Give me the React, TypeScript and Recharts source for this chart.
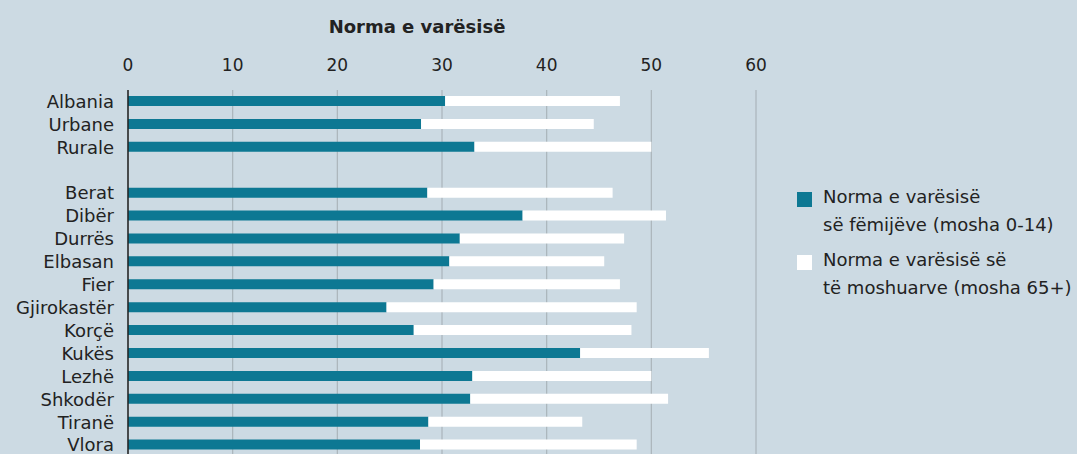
import { Bar, BarChart, CartesianGrid, Legend, XAxis, YAxis } from "recharts";

const regions = [
  "Albania", "Urbane", "Rurale", "",
  "Berat", "Dibër", "Durrës", "Elbasan", "Fier", "Gjirokastër",
  "Korçë", "Kukës", "Lezhë", "Shkodër", "Tiranë", "Vlora",
];
// dependency ratio of children (0-14)
const childRatio = [
  30.3, 28.0, 33.1, null,
  28.6, 37.7, 31.7, 30.7, 29.2, 24.7, 27.3, 43.2, 32.9, 32.7, 28.7, 27.9,
];
// dependency ratio of elderly (65+)
const elderlyRatio = [
  16.7, 16.5, 16.9, null,
  17.7, 13.7, 15.7, 14.8, 17.8, 23.9, 20.8, 12.3, 17.1, 18.9, 14.7, 20.7,
];
const xTicks = [0, 10, 20, 30, 40, 50, 60];
const legendLines = [
  ["Norma e varësisë", "së fëmijëve (mosha 0-14)"],
  ["Norma e varësisë së", "të moshuarve (mosha 65+)"],
];

const BG = "#ccdae3";
const TEAL = "#0d7893";
const FONT = "'DejaVu Sans', sans-serif";
const X_TICK = { fontSize: 17, fill: "#222", fontFamily: FONT };
const Y_TICK = { fontSize: 18, fill: "#222", fontFamily: FONT };

const rows = regions.map((name, i) => ({
  name,
  children: childRatio[i],
  elderly: elderlyRatio[i],
}));

function LegendBox() {
  const colors = [TEAL, "#ffffff"];
  return (
    <div style={{ fontFamily: FONT, fontSize: 18, color: "#222", lineHeight: "28px" }}>
      {legendLines.map((lines, i) => (
        <div key={i} style={{ display: "flex", marginBottom: 7 }}>
          <div style={{ width: 15, height: 15, background: colors[i], marginTop: 9, marginRight: 11, flexShrink: 0 }} />
          <div>
            {lines.map((l) => (
              <div key={l} style={{ whiteSpace: "nowrap" }}>{l}</div>
            ))}
          </div>
        </div>
      ))}
    </div>
  );
}

export default function App() {
  return (
    <div
      style={{
        position: "absolute",
        left: 0,
        top: 0,
        width: 1077,
        height: 454,
        overflow: "hidden",
        background: BG,
      }}
    >
      <div
        style={{
          position: "absolute",
          left: 317,
          width: 200,
          top: 16,
          textAlign: "center",
          fontFamily: FONT,
          fontWeight: "bold",
          fontSize: 18,
          color: "#222",
        }}
      >
        Norma e varësisë
      </div>
      <BarChart
        width={1077}
        height={470}
        data={rows}
        layout="vertical"
        barSize={10}
        margin={{ top: 50, right: 321, bottom: 13.5, left: 0 }}
      >
        <CartesianGrid horizontal={false} stroke="#aab4bb" strokeWidth={1.2} />
        <XAxis
          type="number"
          orientation="top"
          domain={[0, 60]}
          ticks={xTicks}
          height={40}
          tick={X_TICK}
          tickLine={false}
          axisLine={false}
          tickSize={0}
          tickMargin={19}
        />
        <YAxis
          type="category"
          dataKey="name"
          width={128}
          interval={0}
          tick={Y_TICK}
          tickLine={false}
          tickSize={0}
          tickMargin={14}
          axisLine={{ stroke: "#222", strokeWidth: 1.5 }}
        />
        <Legend
          layout="horizontal"
          align="center"
          verticalAlign="middle"
          width={280}
          wrapperStyle={{ left: 797, top: 183 }}
          content={() => <LegendBox />}
        />
        <Bar dataKey="children" stackId="a" fill={TEAL} isAnimationActive={false} />
        <Bar dataKey="elderly" stackId="a" fill="#ffffff" isAnimationActive={false} />
      </BarChart>
    </div>
  );
}
